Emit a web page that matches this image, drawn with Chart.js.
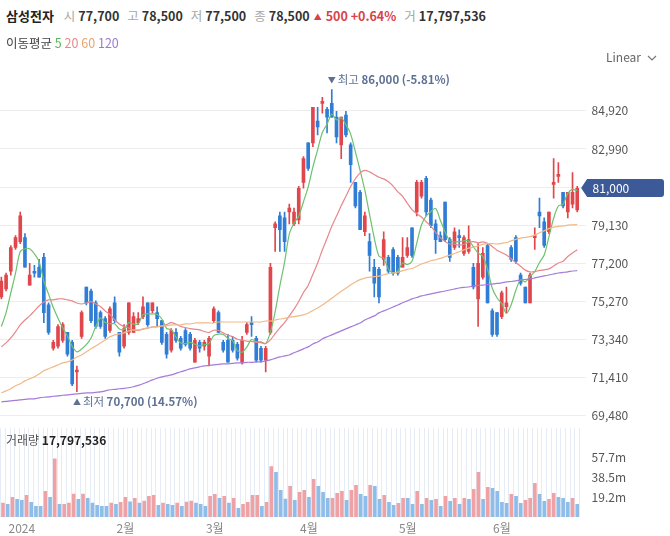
<!DOCTYPE html>
<html><head><meta charset="utf-8">
<script src="https://cdn.jsdelivr.net/npm/chart.js@4"></script>
<style>
html,body{margin:0;padding:0;background:#fff;width:670px;height:536px;overflow:hidden;font-family:"Noto Sans CJK KR","Noto Sans",sans-serif;}
#wrap{position:relative;width:670px;height:536px;}
.abs{position:absolute;white-space:nowrap;z-index:2;}
#h1{left:6px;top:6px;font-size:12.5px;line-height:20px;color:#333;}
#h1 .nm{font-weight:700;color:#222;font-size:13px;}
#h1 .k{color:#a6a6a6;margin-left:8px;}
#h1 .v{font-weight:700;color:#333;margin-left:3px;}
#h1 .up{color:#d8434a;font-weight:700;}
#h2{left:6px;top:33px;font-size:12.5px;line-height:20px;color:#444;}
#lin{left:606px;top:48px;font-size:12px;color:#666;line-height:18px;}
#vl{left:6px;top:431px;font-size:12px;color:#555;line-height:18px;}
#vl b{color:#222;}
canvas{position:absolute;left:-1px;z-index:1;}
</style></head>
<body><div id="wrap">
<canvas id="price" width="671" height="366"></canvas>
<canvas id="vol" width="671" height="108"></canvas>
<div id="h1" class="abs"><span class="nm">삼성전자</span><span class="k" style="margin-left:10px">시</span><span class="v">77,700</span><span class="k">고</span><span class="v">78,500</span><span class="k">저</span><span class="v">77,500</span><span class="k">종</span><span class="v">78,500</span><span class="up" style="font-size:8px;margin-left:4px;vertical-align:1px">▲</span><span class="up" style="margin-left:4px">500 +0.64%</span><span class="k">거</span><span class="v">17,797,536</span></div>
<div id="h2" class="abs">이동평균 <span style="color:#5cb85c">5</span> <span style="color:#e58a8c">20</span> <span style="color:#e9a46c">60</span> <span style="color:#9d7ad2">120</span></div>
<div id="lin" class="abs">Linear <svg width="10" height="8" viewBox="0 0 10 8" style="margin-left:3px;vertical-align:0px"><path d="M1 2 L5 6 L9 2" fill="none" stroke="#777" stroke-width="1.2"/></svg></div>
<div id="vl" class="abs">거래량 <b>17,797,536</b></div>
</div>
<script>
const dates = ['2023-12-22','2023-12-26','2023-12-27','2023-12-28',
'2024-01-02','2024-01-03','2024-01-04','2024-01-05','2024-01-08','2024-01-09','2024-01-10','2024-01-11','2024-01-12','2024-01-15','2024-01-16','2024-01-17','2024-01-18','2024-01-19','2024-01-22','2024-01-23','2024-01-24','2024-01-25','2024-01-26','2024-01-29','2024-01-30','2024-01-31',
'2024-02-01','2024-02-02','2024-02-05','2024-02-06','2024-02-07','2024-02-08','2024-02-13','2024-02-14','2024-02-15','2024-02-16','2024-02-19','2024-02-20','2024-02-21','2024-02-22','2024-02-23','2024-02-26','2024-02-27','2024-02-28','2024-02-29',
'2024-03-04','2024-03-05','2024-03-06','2024-03-07','2024-03-08','2024-03-11','2024-03-12','2024-03-13','2024-03-14','2024-03-15','2024-03-18','2024-03-19','2024-03-20','2024-03-21','2024-03-22','2024-03-25','2024-03-26','2024-03-27','2024-03-28','2024-03-29',
'2024-04-01','2024-04-02','2024-04-03','2024-04-04','2024-04-05','2024-04-08','2024-04-09','2024-04-11','2024-04-12','2024-04-15','2024-04-16','2024-04-17','2024-04-18','2024-04-19','2024-04-22','2024-04-23','2024-04-24','2024-04-25','2024-04-26','2024-04-29','2024-04-30',
'2024-05-02','2024-05-03','2024-05-07','2024-05-08','2024-05-09','2024-05-10','2024-05-13','2024-05-14','2024-05-16','2024-05-17','2024-05-20','2024-05-21','2024-05-22','2024-05-23','2024-05-24','2024-05-27','2024-05-28','2024-05-29','2024-05-30','2024-05-31',
'2024-06-03','2024-06-04','2024-06-05','2024-06-07','2024-06-10','2024-06-11','2024-06-12','2024-06-13','2024-06-14','2024-06-17','2024-06-18','2024-06-19','2024-06-20','2024-06-21','2024-06-24','2024-06-25','2024-06-26'];

const opens = [75500,75900,76800,78000,78300,78500,76100,76800,77000,77500,75100,72900,73000,73300,73700,73200,71700,73500,76000,75800,
75200,74700,74400,73800,75200,73700,73000,73700,73700,74200,74500,75200,74800,74700,74300,73600,72800,73700,73400,73800,
73600,72200,73200,73000,72500,74300,74700,73200,73300,73300,73100,72200,73700,74200,73400,72900,72300,73700,79000,79600,
79500,79800,79200,79400,81300,83300,83300,84400,85300,85000,85300,84600,83200,84700,83200,81300,80800,78800,78300,77000,
76900,77400,77500,77900,77500,77000,77600,79000,79800,80600,81500,80400,79200,78600,80300,78400,78000,78600,77700,77800,
77000,75400,76500,78100,74800,74700,74500,75000,78000,78500,76600,76000,75200,78500,79800,79300,78800,81200,81600,80800,
79800,80200,79900];
const highs = [76500,76700,78100,78600,79800,78700,77200,77100,77400,77700,75200,73300,74100,74200,73700,73300,72000,74800,76000,75900,
75300,74800,74500,75000,75500,73700,74100,75200,74700,74700,75500,75200,75200,75000,74300,73700,73900,73900,73500,73900,
73700,73400,73300,73300,73500,75000,74800,73300,73600,73500,73200,73500,74200,74500,73500,73000,73000,77200,79300,79800,
79800,80200,80000,81100,82600,83300,85100,85100,85600,85100,86000,84900,84600,84900,83300,81300,80900,79800,78700,77400,
77000,78800,77600,78000,77600,78500,78500,79000,81400,81400,81600,80500,79400,78800,80300,78500,79000,78900,78600,79100,
77200,78200,78000,78200,74900,74700,75800,76000,78100,78600,76700,76000,76700,79000,80500,79500,79800,82500,82300,80800,
80800,81800,81100];
const lows = [75400,75800,76600,77900,78200,77000,76100,76500,76500,74200,73600,72800,72900,73200,72500,71000,70700,73400,75100,74200,
73900,73900,73400,73700,74200,72500,72900,73600,73700,74100,74400,74000,74700,74000,73100,72400,72700,73200,72800,73000,
72800,72200,72700,72800,72000,74200,73700,72700,72200,72700,72300,72100,73600,73500,72200,72200,71700,73600,77800,77800,
77800,79200,79100,79200,81000,81900,83100,83700,84800,83800,84600,83300,82500,83600,81300,80000,78900,78600,76800,75500,
75200,77100,76700,76600,76600,77000,77500,77500,79600,80500,79600,79000,77700,78300,78300,77300,77900,78000,77600,77700,
75900,74000,76400,75200,73500,73500,74400,74700,77300,77200,76100,75200,75200,77900,79000,78000,78700,80500,81300,80000,
79500,80000,79800];
const closes = [76300,76600,78000,78500,79600,77000,76600,76700,76500,74700,73700,73200,74000,74100,72600,71100,71800,74700,75200,74300,
74000,74000,73500,74900,74300,72700,73900,75200,74500,74400,75000,74100,75200,74400,73200,72600,73800,73300,72900,73100,
72900,73300,72900,73200,73400,74900,73700,72800,72200,72800,72400,73300,74100,74100,72300,72300,72900,77000,79200,78900,
78300,80000,79800,81000,82500,82000,85100,84100,85400,84600,84600,83600,84600,83700,82200,80100,78900,79600,77600,76200,
75500,78400,76800,76700,76700,77500,78000,77600,81300,81300,79800,79100,78400,78300,78400,77500,78800,78500,78500,78400,
76000,77200,77700,75200,73600,73600,75700,75200,77400,77300,76200,75200,76600,78600,79600,78100,79800,81300,81700,80100,
80800,80800,81000];

const ma5 = [74000,74700,75700,76700,77800,77940,77940,77680,77280,76300,75640,74960,74420,73940,73520,73000,72720,72860,73080,73420,
74000,74440,74200,74140,74140,73880,73860,74200,74120,74140,74600,74640,74640,74620,74380,73900,73840,73460,73160,73140,
73200,73100,73020,73080,73140,73540,73620,73600,73400,73280,72780,72700,72960,73340,73240,73220,73140,73720,74740,76060,
77260,78680,79240,79600,80320,81060,82080,82940,83820,84240,84760,84460,84560,84220,83740,82840,81900,80900,79680,78480,
77560,77460,76900,76720,76820,77220,77140,77300,78220,79140,79600,79820,79980,79380,78800,78340,78280,78300,78340,78340,
78040,77720,77560,76900,75940,75460,75160,74660,75100,75840,76360,76260,76540,76780,77240,77620,78540,79480,80100,80200,
80740,80940,80880];
const ma20 = [72970,73170,73420,73730,74080,74330,74540,74790,75040,75240,75350,75350,75400,75400,75350,75300,75190,75140,75190,75260,
75145,75015,74790,74610,74345,74130,73995,73920,73820,73805,73870,73915,73975,73990,74020,74095,74195,74125,74010,73950,
73895,73860,73830,73745,73700,73810,73800,73680,73565,73485,73355,73315,73260,73245,73200,73185,73140,73325,73640,73930,
74200,74535,74880,75270,75725,76080,76650,77215,77875,78465,79075,79590,80115,80595,81090,81480,81780,81910,81830,81695,
81555,81475,81325,81110,80820,80595,80240,79915,79710,79545,79305,79080,78770,78500,78310,78180,78175,78120,78165,78275,
78300,78240,78285,78210,78055,77860,77745,77625,77430,77230,77050,76855,76765,76780,76840,76870,76920,77060,77220,77305,
77545,77725,77890];
const ma60 = [70640,70740,70850,71000,71100,71250,71350,71450,71600,71760,71860,71960,72060,72160,72210,72310,72460,72560,72720,72870,
73020,73170,73320,73480,73580,73630,73680,73780,73830,73830,73880,73930,73980,73980,74030,74030,74080,74080,74080,74130,
74130,74180,74180,74180,74180,74180,74230,74230,74230,74230,74230,74230,74230,74230,74230,74230,74280,74280,74330,74380,
74413,74470,74500,74542,74590,74673,74815,74938,75087,75252,75433,75607,75783,75943,76103,76253,76372,76453,76493,76525,
76550,76623,76678,76708,76748,76828,76897,76937,77050,77165,77245,77328,77382,77447,77533,77615,77698,77785,77878,77967,
78018,78083,78163,78197,78200,78178,78212,78252,78338,78413,78477,78508,78550,78625,78747,78843,78958,79030,79072,79092,
79133,79147,79167];
const ma120 = [70190,70210,70240,70260,70290,70310,70340,70340,70390,70420,70440,70470,70490,70520,70540,70570,70590,70620,70640,70640,
70670,70690,70740,70800,70820,70850,70870,70900,70950,71020,71100,71200,71300,71380,71450,71500,71550,71630,71710,71780,
71860,71910,71960,72010,72030,72060,72080,72110,72110,72130,72160,72160,72190,72190,72210,72210,72260,72310,72390,72460,
72510,72560,72670,72770,72870,72970,73120,73220,73370,73480,73580,73680,73780,73880,73980,74080,74180,74330,74440,74540,
74690,74790,74890,74990,75090,75200,75300,75400,75470,75550,75600,75650,75700,75750,75800,75850,75900,75950,75980,76000,
76050,76080,76100,76130,76150,76180,76210,76260,76280,76310,76360,76380,76410,76460,76510,76560,76610,76660,76710,76740,
76770,76810,76830];

// volume in millions of shares, and its up(1)/down(0) colour flag
const volumesM = [13.4,12.2,18.9,17.0,16.0,20.8,14.0,10.2,10.2,24.6,18.9,56.0,12.2,12.2,13.4,22.0,17.0,22.0,18.0,13.4,
11.2,10.2,10.2,13.4,12.2,14.0,18.9,14.7,18.0,13.4,15.4,19.8,20.8,11.2,13.4,12.2,11.2,13.4,10.2,14.4,
15.4,13.4,12.2,10.2,19.8,21.8,18.0,19.8,13.4,18.0,8.3,12.2,14.0,20.8,20.8,10.2,14.0,48.6,42.9,25.6,
17.3,29.4,16.0,23.7,25.6,18.9,36.2,29.4,23.7,18.0,18.0,22.7,24.6,16.0,25.6,30.4,21.8,19.8,30.4,29.4,
17.0,20.8,14.0,11.2,13.1,18.0,18.0,12.2,24.6,12.2,18.0,16.0,17.0,10.2,19.8,15.0,17.9,12.2,17.9,17.0,
26.6,42.9,17.0,28.5,27.5,24.6,14.0,13.1,21.8,19.8,13.1,16.0,17.9,32.3,21.8,15.0,17.0,22.7,18.9,17.9,
14.0,17.9,12.2];
const volumeUp = [1,0,1,0,0,1,0,0,0,1,0,1,0,1,1,1,0,1,0,0,
0,0,0,1,0,1,1,0,1,0,1,1,1,0,1,0,0,1,0,1,
1,0,0,0,1,1,0,1,0,1,0,1,1,1,1,0,1,1,0,0,
0,1,0,1,1,0,1,0,0,0,1,1,1,0,1,1,0,0,1,0,
0,1,0,0,1,1,0,0,1,0,1,0,1,0,1,0,1,0,1,0,
1,1,0,1,0,0,0,0,1,0,0,1,1,1,0,0,1,1,0,0,
0,1,0];

const priceTicks = [69480,71410,73340,75270,77200,79130,81060,82990,84920];
const volTickValues = [19.23,38.46,57.69];
const volTickLabels = ['19.2m','38.5m','57.7m'];
const monthTickIndex = [4,26,45,65,86,106];
const monthTickText = ['2024','2월','3월','4월','5월','6월'];

const FONT = '"Noto Sans CJK KR","Noto Sans",sans-serif';
const RED='#e0474d', BLUE='#2f7dd5', VRED='#eea2a6', VBLUE='#8ebde9';
const AXW = 90.4;
const candleColors = closes.map((c,i)=> c>=opens[i] ? RED : BLUE);

const markerPlugin = {
  id:'markers',
  afterDraw(chart){
    const {ctx, scales:{x,y}, chartArea} = chart;
    let hi=0, lo=0;
    highs.forEach((v,i)=>{ if(v>highs[hi]) hi=i; });
    lows.forEach((v,i)=>{ if(v<lows[lo]) lo=i; });
    const last = closes[closes.length-1];
    const col='#5d7193';
    ctx.save();
    ctx.textBaseline='middle';
    let px=x.getPixelForValue(hi), py=y.getPixelForValue(highs[hi])-10;
    ctx.fillStyle=col; ctx.textAlign='center'; ctx.font='8px '+FONT; ctx.fillText('▼',px,py);
    ctx.textAlign='left'; ctx.font='11.5px '+FONT; ctx.fillText('최고',px+6,py);
    let w=ctx.measureText('최고 ').width;
    ctx.font='bold 11.5px '+FONT;
    ctx.fillText(highs[hi].toLocaleString('en-US')+' ('+((last/highs[hi]-1)*100).toFixed(2)+'%)',px+6+w,py);
    px=x.getPixelForValue(lo); py=y.getPixelForValue(lows[lo])+10;
    ctx.textAlign='center'; ctx.font='8px '+FONT; ctx.fillText('▲',px,py);
    ctx.textAlign='left'; ctx.font='11.5px '+FONT; ctx.fillText('최저',px+6,py);
    w=ctx.measureText('최저 ').width;
    ctx.font='bold 11.5px '+FONT;
    ctx.fillText(lows[lo].toLocaleString('en-US')+' ('+((last/lows[lo]-1)*100).toFixed(2)+'%)',px+6+w,py);
    const ty=Math.round(y.getPixelForValue(last));
    const L=chartArea.right+1.5, B=L+6, R=665;
    ctx.fillStyle='#3d5a98';
    ctx.beginPath();
    ctx.moveTo(L,ty); ctx.lineTo(B,ty-9); ctx.lineTo(R-3,ty-9);
    ctx.quadraticCurveTo(R,ty-9,R,ty-6); ctx.lineTo(R,ty+6);
    ctx.quadraticCurveTo(R,ty+9,R-3,ty+9); ctx.lineTo(B,ty+9); ctx.closePath(); ctx.fill();
    ctx.fillStyle='#fff'; ctx.font='12px '+FONT; ctx.textAlign='left';
    ctx.fillText(last.toLocaleString('en-US'), chartArea.right+13, ty+0.5);
    ctx.restore();
  }
};

const yMin = 68873, yMax = 87382;
const maLine = (d,c)=>({type:'line',data:d,borderColor:c,borderWidth:1.2,pointRadius:0,tension:0.3,order:0,fill:false});

const priceConfig = ()=>({
  type:'bar',
  data:{labels:dates,datasets:[
    maLine(ma120,'#a47bd9'),
    maLine(ma60,'#f1b987'),
    maLine(ma20,'#e7878b'),
    maLine(ma5,'#6cc26f'),
    {data:lows.map((l,i)=>[l,highs[i]]),backgroundColor:candleColors,barThickness:1,grouped:false,order:2},
    {data:opens.map((o,i)=>[o,closes[i]]),backgroundColor:candleColors,barThickness:3,minBarLength:1,grouped:false,order:1}
  ]},
  options:{
    responsive:false,animation:false,devicePixelRatio:1,
    layout:{padding:0},
    plugins:{legend:{display:false},tooltip:{enabled:false}},
    scales:{
      x:{display:false,offset:true},
      y:{position:'right',min:yMin,max:yMax,
         afterBuildTicks:s=>{s.ticks=priceTicks.map(v=>({value:v}));},
         afterFit:s=>{s.width=AXW;},
         grid:{color:'#ededed',tickLength:6,drawTicks:true},
         border:{display:false},
         ticks:{padding:6,color:'#555',font:{size:12,family:FONT},callback:v=>Number(v).toLocaleString('en-US')}}
    }
  },
  plugins:[markerPlugin]
});

const volConfig = ()=>({
  type:'bar',
  data:{labels:dates,datasets:[{data:volumesM,backgroundColor:volumeUp.map(u=>u?VRED:VBLUE),barThickness:3}]},
  options:{
    responsive:false,animation:false,devicePixelRatio:1,
    layout:{padding:0},
    plugins:{legend:{display:false},tooltip:{enabled:false}},
    scales:{
      x:{offset:true,
         grid:{display:true,color:'rgba(222,230,242,0.75)',drawTicks:false,offset:true},
         border:{display:false},
         afterFit:s=>{s.height=19;},
         ticks:{autoSkip:false,maxRotation:0,minRotation:0,padding:4,color:'#888',font:{size:12,family:FONT},
           callback:(v,i)=>{const k=monthTickIndex.indexOf(i);return k>=0?monthTickText[k]:'';}}},
      y:{position:'right',min:0,max:85.4,
         afterBuildTicks:s=>{s.ticks=volTickValues.map(v=>({value:v}));},
         afterFit:s=>{s.width=AXW;},
         grid:{display:false,drawTicks:true,tickLength:6},
         border:{display:false},
         ticks:{padding:6,color:'#555',font:{size:12,family:FONT},callback:(v)=>{const k=volTickValues.indexOf(v);return k>=0?volTickLabels[k]:'';}}}
    }
  }
});

// place a chart so that its plot area spans exactly areaTop..areaBottom on the page
function placeChart(id, cfgFn, areaTop, areaBottom){
  const cv=document.getElementById(id);
  const h0=areaBottom-areaTop;
  cv.width=671; cv.height=h0; cv.style.top=areaTop+'px';
  let ch=new Chart(cv,cfgFn());
  const padT=ch.chartArea.top, padB=h0-ch.chartArea.bottom;
  ch.destroy();
  cv.width=671; cv.height=h0+padT+padB;
  cv.style.width='671px'; cv.style.height=(h0+padT+padB)+'px';
  cv.style.top=(areaTop-padT)+'px';
  return new Chart(cv,cfgFn());
}
placeChart('price', priceConfig, 62, 428);
placeChart('vol', volConfig, 428, 517);
</script>
</body></html>
